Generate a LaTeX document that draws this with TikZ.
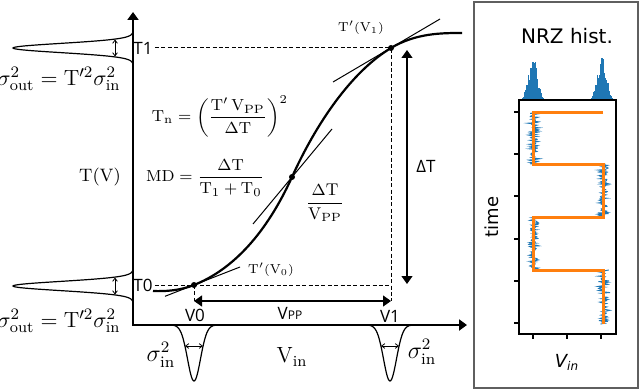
\documentclass[tikz,border=0pt]{standalone}
\usepackage{amsmath,amssymb}
\usepackage{fontspec}
\usepackage{xcolor}
\usepackage{tikz}
\usetikzlibrary{arrows.meta,calc}
\newfontfamily\lblfont{Open Sans}
\newfontfamily\mplfont{DejaVu Sans}
\definecolor{nrzblue}{RGB}{31,119,180}
\definecolor{nrzorange}{RGB}{255,127,14}
\definecolor{panelgray}{RGB}{95,95,95}

\begin{document}
\begin{tikzpicture}[
  x=0.5pt, y=-0.5pt,
  font=\fontsize{9}{11}\selectfont,
  axisline/.style={line width=1.2pt, {Triangle[length=4pt,width=5.5pt]}-{Triangle[length=4pt,width=5.5pt]}},
  tfcurve/.style={line width=1.1pt},
  tangent/.style={line width=0.5pt},
  dashline/.style={line width=0.5pt, dash pattern=on 2pt off 1.2pt},
  dimarrow/.style={line width=0.6pt, {Triangle[length=4pt,width=5.5pt]}-{Triangle[length=4pt,width=5.5pt]}},
  gauss/.style={line width=0.6pt, smooth, samples=61},
  spread/.style={line width=0.4pt, {Straight Barb[length=1.6pt,width=2.4pt]}-{Straight Barb[length=1.6pt,width=2.4pt]}},
  sanslbl/.style={font=\lblfont\fontsize{8.5}{10}\selectfont, inner sep=1pt},
  mpllbl/.style={font=\mplfont\fontsize{9}{11}\selectfont},
  sigmalbl/.style={font=\fontsize{12}{14}\selectfont, inner sep=0pt},
  outlbl/.style={font=\fontsize{11}{13}\selectfont, inner sep=0pt},
]
\useasboundingbox (0,0) rectangle (640,390);
\pgfmathsetseed{12}

% ============ Axes ============
\coordinate (orig) at (133,325);
\coordinate (ytip) at (133,12);
\coordinate (xtip) at (467,325);
\draw[axisline] (ytip) -- (orig) -- (xtip);

% ============ Transfer curve T(V) ============
\coordinate (p0) at (194,285);
\coordinate (pm) at (292,177);
\coordinate (p1) at (391,48);
\coordinate (cstart) at (153,291);
\coordinate (cend) at (462,33);
\draw[tfcurve] (cstart) .. controls (166,291.5) and (180,290.5) .. (p0)
  .. controls (234,269) and (267,232) .. (pm)
  .. controls (316,124) and (351,72) .. (p1)
  .. controls (416,33) and (442,33) .. (cend);

% tangents / mean slope
\draw[tangent] ($(p0)+(-29,11.3)$) -- ($(p0)+(46,-18)$);
\draw[tangent] ($(pm)+(-39,47)$) -- ($(pm)+(40,-48)$);
\draw[tangent] ($(p1)+(-58,34)$) -- ($(p1)+(49,-29)$);

% ============ Levels T1 / T0 ============
\node[sanslbl] (T1lbl) at (143,48) {T1};
\node[sanslbl] (T0lbl) at (143,285) {T0};
\coordinate (v0end) at (194,301);
\coordinate (v1end) at (391,301);
\draw[dashline] (T1lbl.east) -- (p1) -- (v1end);
\draw[dashline] (T0lbl.east) -- (p1 |- p0);
\draw[dashline] (p0) -- (v0end);

\fill (p0) circle (3);
\fill (pm) circle (3);
\fill (p1) circle (3);

% ============ V_PP and Delta T ============
\draw[dimarrow] (v0end) -- (v1end);
\node[sanslbl] (V0lbl) at (195,315) {V0};
\node[sanslbl] (V1lbl) at (390,316) {V1};
\node[sanslbl] (VPPlbl) at (290,313) {V{\fontsize{6}{6}\selectfont PP}};

\coordinate (dTtop) at (407,50);
\coordinate (dTbot) at (407,284);
\draw[dimarrow] (dTtop) -- (dTbot);
\node[sanslbl] (dTlbl) at (426,166) {ΔT};

% ============ Formulas ============
\node (TVlbl) at (100,177) {$\mathrm{T(V)}$};
\node[font=\fontsize{8}{10}\selectfont] (Tnlbl) at (220,116)
  {$\mathrm{T_n} = \left(\dfrac{\mathrm{T}'\,\mathrm{V_{PP}}}{\Delta\mathrm{T}}\right)^{2}$};
\node[font=\fontsize{8}{10}\selectfont] (MDlbl) at (205,178)
  {$\mathrm{MD} = \dfrac{\Delta\mathrm{T}}{\mathrm{T_1}+\mathrm{T_0}}$};
\node[font=\fontsize{8.5}{10}\selectfont] (slopelbl) at (325,203)
  {$\dfrac{\Delta\mathrm{T}}{\mathrm{V_{PP}}}$};
\node[font=\fontsize{6.5}{8}\selectfont] (tan1lbl) at (361,28) {$\mathrm{T}'(\mathrm{V_1})$};
\node[font=\fontsize{6.5}{8}\selectfont] (tan0lbl) at (271,270) {$\mathrm{T}'(\mathrm{V_0})$};

% ============ Output distributions (left) ============
\coordinate (g1) at (133,48);
\coordinate (g0) at (133,286);
\draw[gauss] plot[domain=-15:15] ({133-120*exp(-(\x*\x)/42)},{48+\x});
\draw[gauss] plot[domain=-15:15] ({133-120*exp(-(\x*\x)/42)},{286+\x});
\draw[spread] ($(g1)+(-18,-8.5)$) -- ($(g1)+(-18,8.5)$);
\draw[spread] ($(g0)+(-18,-8.5)$) -- ($(g0)+(-18,8.5)$);
\node[outlbl] (sout1) at (59,79)
  {$\sigma^2_{\mathrm{out}} = \mathrm{T}'^{2}\sigma^2_{\mathrm{in}}$};
\node[outlbl] (sout0) at (59,321)
  {$\sigma^2_{\mathrm{out}} = \mathrm{T}'^{2}\sigma^2_{\mathrm{in}}$};

% ============ Input distributions (bottom) ============
\coordinate (b0) at (194,325);
\coordinate (b1) at (390,325);
\draw[gauss] plot[domain=-24:24] ({194+\x},{325+56*exp(-(\x*\x)/84)});
\draw[gauss] plot[domain=-24:24] ({390+\x},{325+56*exp(-(\x*\x)/84)});
\draw[spread] ($(b0)+(-9,21)$) -- ($(b0)+(9,21)$);
\draw[spread] ($(b1)+(-9,21)$) -- ($(b1)+(9,21)$);
\node[sigmalbl] (sin0) at (161,355) {$\sigma^2_{\mathrm{in}}$};
\node[sigmalbl] (sin1) at (422,352) {$\sigma^2_{\mathrm{in}}$};
\node[font=\fontsize{11}{13}\selectfont] (Vinlbl) at (292,357) {$\mathrm{V_{in}}$};

% ============ NRZ histogram panel (right) ============
\coordinate (panelNW) at (474,2);
\coordinate (panelSE) at (638,388);
\draw[panelgray, line width=0.7pt] (panelNW) rectangle (panelSE);
\node[mpllbl, font=\mplfont\fontsize{10}{12}\selectfont] (nrztitle) at (567,36) {NRZ hist.};

% marginal histograms
\foreach \hx in {533,602} {
  \foreach \d in {-12,-10.8,...,12} {
    \pgfmathsetmacro\hh{44*exp(-(\d*\d)/40)*(0.82+0.2*rand)}
    \pgfmathsetmacro\xl{\hx+\d-0.6}
    \pgfmathsetmacro\xr{\hx+\d+0.6}
    \fill[nrzblue] (\xl,100) rectangle (\xr,100-\hh);
  }
}

% noisy samples and ideal levels
\foreach \xa/\ya/\yb in {533/112/164, 603/164/217, 533/217/270, 603/270/324}
  \draw[nrzblue, line width=0.45pt] plot[domain=\ya:\yb, samples=80] ({\xa+1+4*rand+3*rand},{\x});
\draw[nrzorange, line width=1.5pt] (603,112) -- (533,112) -- (533,164) -- (603,164)
  -- (603,217) -- (533,217) -- (533,270) -- (603,270) -- (603,324);

% axes frame and ticks
\draw[line width=0.8pt] (519,100) rectangle (616,334);
\foreach \ty in {112,154,196,239,281,323}
  \draw[line width=0.6pt] (514,\ty) -- (519,\ty);
\foreach \tx in {533,567,601}
  \draw[line width=0.6pt] (\tx,334) -- (\tx,339);
\node[mpllbl, rotate=90] (timelbl) at (492,217) {time};
\node[mpllbl] (vinpanel) at (567,362) {\itshape V\textsubscript{in}};

\end{tikzpicture}
\end{document}
